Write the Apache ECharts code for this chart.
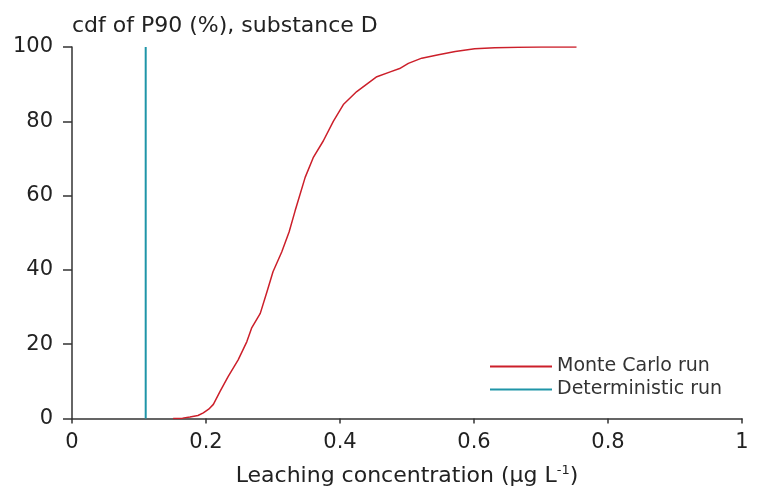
<!DOCTYPE html>
<html>
<head>
<meta charset="utf-8">
<script src="https://cdn.jsdelivr.net/npm/echarts@6/dist/echarts.min.js"></script>
<style>html,body{margin:0;padding:0;background:#fff;}#c{width:761px;height:492px;}</style>
</head>
<body>
<div id="c"></div>
<script>
var monteCarloX = [0.151,0.165,0.176,0.188,0.196,0.204,0.211,0.221,0.233,0.248,0.261,0.268,0.281,0.291,0.300,0.313,0.324,0.333,0.348,0.360,0.375,0.390,0.405,0.425,0.442,0.455,0.475,0.489,0.502,0.522,0.547,0.572,0.601,0.631,0.666,0.700,0.753];
var monteCarloY = [0,0.1,0.4,0.8,1.5,2.5,3.8,7.3,11.3,15.8,20.7,24.3,28.3,34.1,39.5,44.8,50.2,55.9,64.9,70.2,74.7,80.0,84.5,88.0,90.3,92.0,93.3,94.2,95.6,97.0,97.9,98.8,99.5,99.8,99.9,100,100];
var deterministicX = 0.11;
var xTicks = [0, 0.2, 0.4, 0.6, 0.8, 1];
var yTicks = [0, 20, 40, 60, 80, 100];

var mc = monteCarloX.map(function(x, i){ return [x, monteCarloY[i]]; });
var det = [[deterministicX, 0], [deterministicX, 100]];
var FONT = 'DejaVu Sans, Liberation Sans, Arial';

var chart = echarts.init(document.getElementById('c'));
chart.setOption({
  animation: false,
  backgroundColor: '#fff',
  title: {
    text: 'cdf of P90 (%), substance D',
    left: 67, top: 10,
    textStyle: {fontFamily: FONT, fontSize: 22, fontWeight: 'normal', color: '#222'}
  },
  grid: {left: 72, right: 19, top: 47, bottom: 71},
  legend: {
    orient: 'vertical',
    left: 485, top: 352,
    itemWidth: 62, itemHeight: 2, itemGap: 4,
    icon: 'rect',
    textStyle: {fontFamily: FONT, fontSize: 19, color: '#333'},
    data: ['Monte Carlo run', 'Deterministic run']
  },
  xAxis: {
    type: 'value', min: 0, max: 1, interval: 0.2,
    name: '{a|Leaching concentration (μg L}{s|-1}{a|)}',
    nameLocation: 'middle', nameGap: 46,
    nameTextStyle: {
      rich: {
        a: {fontFamily: FONT, fontSize: 22, color: '#222'},
        s: {fontFamily: FONT, fontSize: 13, color: '#222', verticalAlign: 'top', padding: [0,0,10,0]}
      }
    },
    splitLine: {show: false},
    axisLine: {lineStyle: {color: '#333', width: 1.5}},
    axisTick: {length: 5, lineStyle: {color: '#333', width: 1.5}},
    axisLabel: {fontFamily: FONT, fontSize: 21, color: '#222', margin: 14,
      formatter: function(v){ return String(Math.round(v*10)/10); }}
  },
  yAxis: {
    type: 'value', min: 0, max: 100, interval: 20,
    splitLine: {show: false},
    axisLine: {show: true, lineStyle: {color: '#333', width: 1.5}},
    axisTick: {show: true, length: 9, lineStyle: {color: '#333', width: 1.5}},
    axisLabel: {fontFamily: FONT, fontSize: 21, color: '#222', margin: 19}
  },
  series: [
    {name: 'Monte Carlo run', type: 'line', data: mc, showSymbol: false, symbol: 'none',
      lineStyle: {color: '#cc1f2a', width: 1.5}, itemStyle: {color: '#cc1f2a'}},
    {name: 'Deterministic run', type: 'line', data: det, showSymbol: false, symbol: 'none',
      lineStyle: {color: '#1f95a8', width: 2}, itemStyle: {color: '#1f95a8'}}
  ]
});
</script>
</body>
</html>
